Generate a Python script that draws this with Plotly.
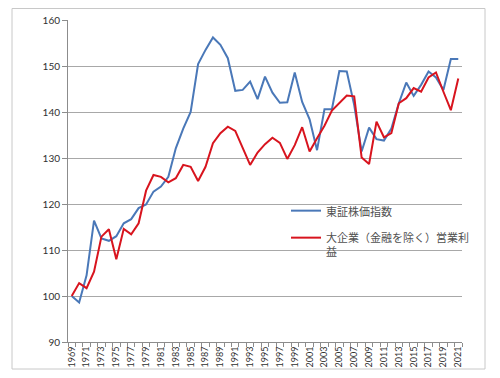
import plotly.graph_objects as go

years = list(range(1969, 2022))
tick_years = list(range(1969, 2022, 2))
tick_labels = [str(y) for y in tick_years]

topix = [100.0, 98.6, 104.5, 116.4, 112.5, 112.0, 113.0, 115.8, 116.7, 119.1,
         119.9, 122.7, 123.8, 125.9, 132.1, 136.4, 140.0, 150.4, 153.5, 156.2,
         154.6, 151.7, 144.6, 144.8, 146.6, 142.8, 147.7, 144.2, 142.0, 142.1,
         148.6, 142.2, 138.4, 131.7, 140.6, 140.6, 148.9, 148.8, 141.5, 131.4,
         136.6, 134.1, 133.8, 136.4, 141.9, 146.4, 143.5, 145.9, 148.8, 147.5,
         144.8, 151.5, 151.5]

profit = [100.0, 102.8, 101.7, 105.3, 112.9, 114.5, 108.0, 114.6, 113.4, 115.8,
          122.9, 126.3, 125.9, 124.7, 125.6, 128.5, 128.1, 125.0, 128.1, 133.2,
          135.4, 136.8, 135.9, 132.1, 128.5, 131.2, 133.0, 134.4, 133.3, 129.8,
          132.8, 136.7, 131.4, 134.3, 137.0, 140.3, 142.0, 143.6, 143.4, 130.1,
          128.7, 137.9, 134.5, 135.4, 141.9, 143.0, 145.2, 144.4, 147.5, 148.6,
          144.4, 140.4, 147.3]

name_topix = "東証株価指数"
name_profit = "大企業（金融を除く）営業利<br>益"

fig = go.Figure()
fig.add_trace(go.Scatter(x=years, y=topix, mode="lines", name=name_topix,
                         line=dict(color="#4a78b8", width=2), legendgroup="a"))
fig.add_trace(go.Scatter(x=years, y=profit, mode="lines", name=name_profit,
                         line=dict(color="#d8141e", width=2), legendgroup="b"))

# page is offset by the body margin (8px); work in page coordinates
OFF = 8
W, H = 500 - 2 * OFF, 378 - 2 * OFF
PL, PR, PT, PB = 68, 462, 20, 342  # plot area in page pixels
L, R, T, B = PL - OFF, W - (PR - OFF), PT - OFF, H - (PB - OFF)
pw, ph = W - L - R, H - T - B

def px(x):
    return (x - OFF - L) / pw

def py(y):
    return (H - B - (y - OFF)) / ph

fig.add_shape(type="rect", xref="paper", yref="paper",
              x0=px(12), x1=px(485), y0=py(369), y1=py(8.5),
              line=dict(color="#c8c8c8", width=1), layer="above")

fig.update_layout(
    width=W, height=H,
    margin=dict(l=L, r=R, t=T, b=B, autoexpand=False),
    paper_bgcolor="white", plot_bgcolor="white",
    font=dict(family="Lato, 'Noto Sans CJK JP'", color="#404040", size=10),
    showlegend=True,
    legend=dict(x=px(286), y=py(197), xanchor="left", yanchor="top",
                bgcolor="rgba(0,0,0,0)", tracegroupgap=8, valign="top",
                font=dict(family="'Noto Sans CJK JP'", size=11, color="#505050")),
)

fig.update_xaxes(
    range=[1968.5, 2021.5], tickmode="array", tickvals=tick_years,
    ticktext=tick_labels, tickangle=-90, ticks="", showgrid=False,
    showline=True, linecolor="#8c8c8c", linewidth=1, zeroline=False,
    automargin=False,
    tickfont=dict(size=9, family="Lato", color="#303030"),
    minor=dict(ticks="outside", tick0=1968.5, dtick=1, ticklen=4,
               tickcolor="#8c8c8c", showgrid=False),
)
fig.update_yaxes(
    range=[90, 160], dtick=10, tick0=90, showgrid=True, gridcolor="#a8a8a8",
    gridwidth=1, showline=True, linecolor="#8c8c8c", linewidth=1,
    ticks="outside", ticklen=5, tickcolor="#8c8c8c", zeroline=False,
    automargin=False,
    tickfont=dict(size=10, family="Lato", color="#303030"),
)

fig.write_html("out.html")
